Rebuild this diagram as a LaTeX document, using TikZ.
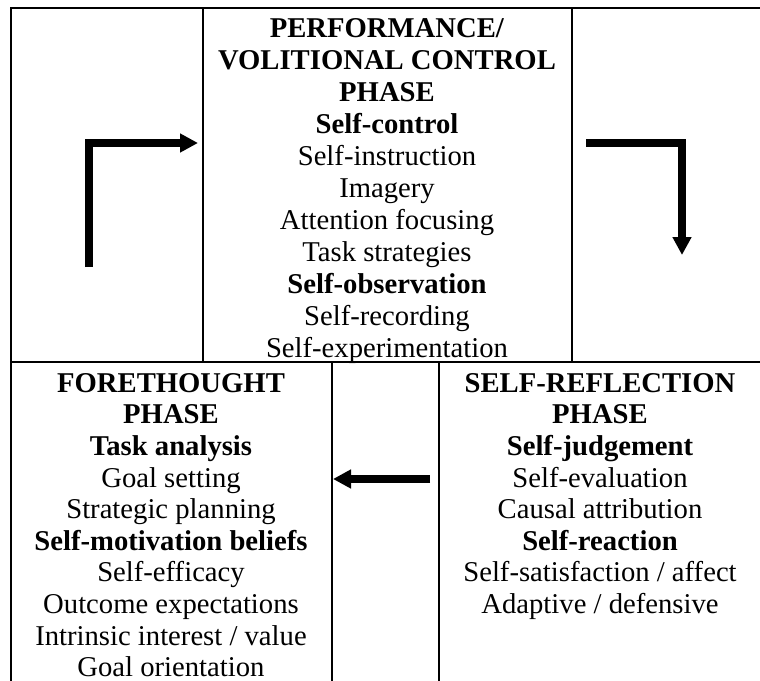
\documentclass[tikz,border=0pt]{standalone}
\usepackage{fontspec}
\setmainfont{Liberation Serif}
\usetikzlibrary{arrows.meta}

\begin{document}
\begin{tikzpicture}[
    x=0.75pt, y=-0.75pt,
    rule/.style={line width=1pt, black},
    phase/.style={align=center, anchor=north, inner sep=0pt,
                  font=\fontsize{21.5}{23.7}\selectfont},
    flow/.style={line width=5.4pt, -{Triangle[length=13.5pt,width=13.5pt]}}
  ]
  \useasboundingbox (0,0) rectangle (760,681);

  % table rules
  \draw[rule] (11,681) -- (11,8) -- (760,8);
  \draw[rule] (11,362) -- (760,362);
  \draw[rule] (203,8) -- (203,362);
  \draw[rule] (572,8) -- (572,362);
  \draw[rule] (332,362) -- (332,681);
  \draw[rule] (439,362) -- (439,681);

  % phase cells
  \node[phase, font=\fontsize{21.5}{24}\selectfont] (perf) at (387,18)
    {\textbf{PERFORMANCE/}\\ \textbf{VOLITIONAL CONTROL}\\ \textbf{PHASE}\\
     \textbf{Self-control}\\ Self-instruction\\ Imagery\\ Attention focusing\\
     Task strategies\\ \textbf{Self-observation}\\ Self-recording\\
     Self-experimentation};
  \node[phase] (fore) at (171,373)
    {\textbf{FORETHOUGHT}\\ \textbf{PHASE}\\ \textbf{Task analysis}\\
     Goal setting\\ Strategic planning\\ \textbf{Self-motivation beliefs}\\
     Self-efficacy\\ Outcome expectations\\ Intrinsic interest / value\\
     Goal orientation};
  \node[phase] (refl) at (600,373)
    {\textbf{SELF-REFLECTION}\\ \textbf{PHASE}\\ \textbf{Self-judgement}\\
     Self-evaluation\\ Causal attribution\\ \textbf{Self-reaction}\\
     Self-satisfaction / affect\\ Adaptive / defensive};

  % cycle arrows
  \coordinate (foreOut) at (89,267);
  \coordinate (perfIn)  at (198,143);
  \coordinate (perfOut) at (586,143);
  \coordinate (reflIn)  at (682,255);
  \coordinate (reflOut) at (430,479);
  \coordinate (foreIn)  at (333,479);
  \draw[flow] (foreOut) |- (perfIn);
  \draw[flow] (perfOut) -| (reflIn);
  \draw[flow] (reflOut) -- (foreIn);
\end{tikzpicture}
\end{document}
